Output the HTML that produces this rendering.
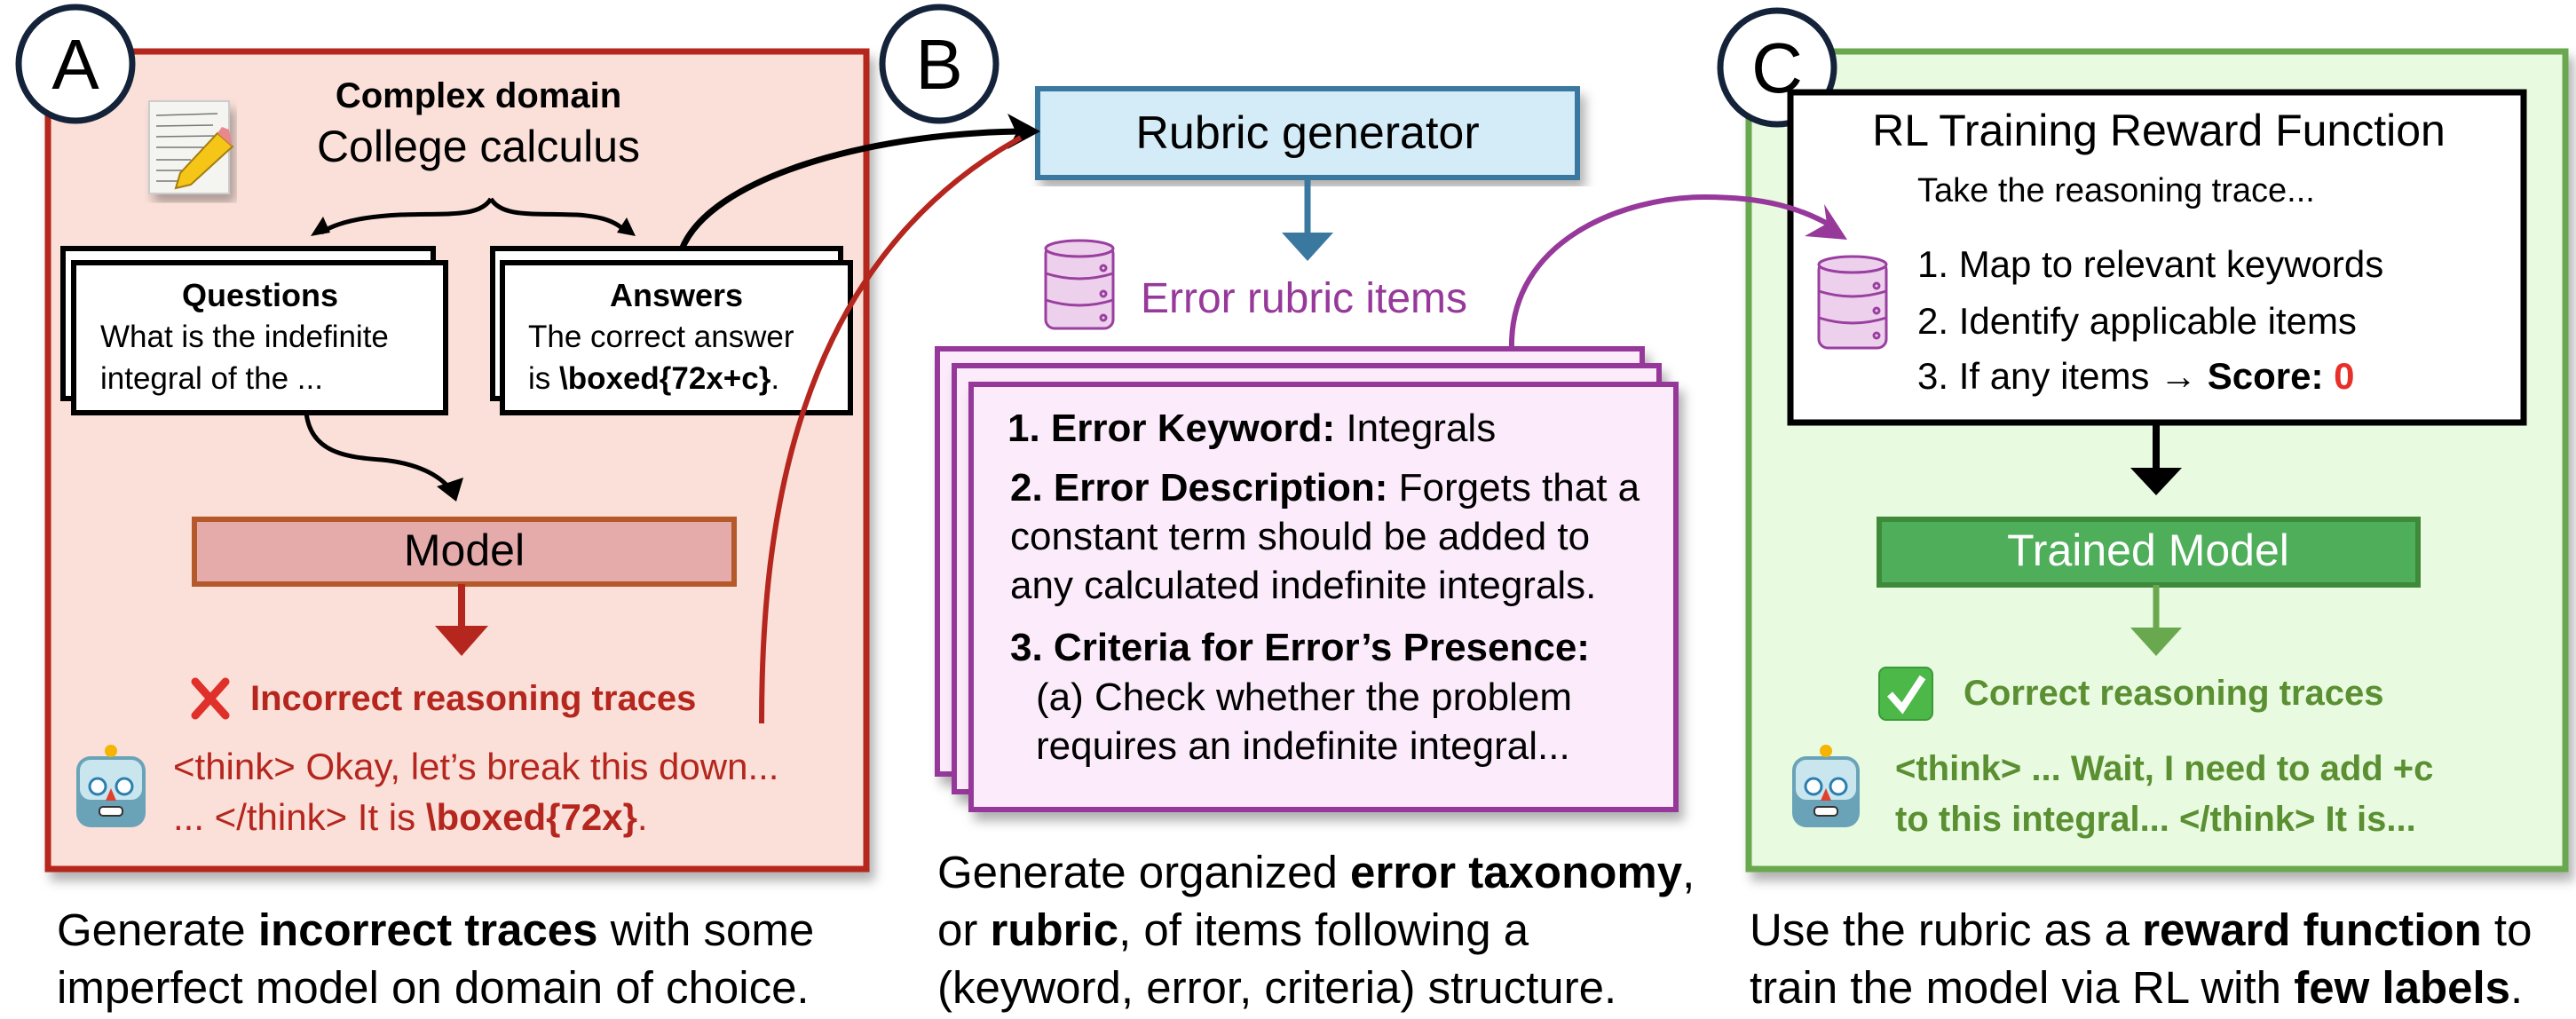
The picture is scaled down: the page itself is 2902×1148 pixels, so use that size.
<!DOCTYPE html>
<html><head><meta charset="utf-8"><style>
html,body{margin:0;padding:0;background:#fff;}
svg{display:block;}
text{font-family:"Liberation Sans",sans-serif;}
</style></head><body>
<svg width="2902" height="1148" viewBox="0 0 2902 1148" xmlns="http://www.w3.org/2000/svg">
<defs>
<filter id="sh" x="-5%" y="-5%" width="115%" height="115%"><feDropShadow dx="6" dy="10" stdDeviation="6" flood-color="#000" flood-opacity="0.3"/></filter>
</defs>

<!-- Panel A -->
<rect x="54" y="58" width="922" height="921" fill="#fae0d8" stroke="#b5261e" stroke-width="7" filter="url(#sh)"/>
<!-- Panel C -->
<rect x="1970" y="58" width="920" height="921" fill="#e8fadf" stroke="#6aa84f" stroke-width="7" filter="url(#sh)"/>

<!-- circles -->
<circle cx="85" cy="72" r="64" fill="#fff" stroke="#14233a" stroke-width="7"/>
<text x="85" y="100" font-size="80" text-anchor="middle">A</text>
<circle cx="1058" cy="72" r="64" fill="#fff" stroke="#14233a" stroke-width="7"/>
<text x="1058" y="100" font-size="80" text-anchor="middle">B</text>
<circle cx="2002" cy="76" r="64" fill="#fff" stroke="#14233a" stroke-width="7"/>
<text x="2002" y="104" font-size="80" text-anchor="middle">C</text>

<!-- notepad icon -->
<g>
<rect x="168" y="114" width="90" height="104" fill="#f4f4f0" stroke="#ccc" stroke-width="2" filter="url(#sh)"/>
<g stroke="#777" stroke-width="1.5">
<line x1="176" y1="130" x2="245" y2="128"/><line x1="176" y1="142" x2="240" y2="141"/><line x1="176" y1="154" x2="246" y2="153"/><line x1="176" y1="166" x2="230" y2="166"/><line x1="176" y1="180" x2="215" y2="180"/><line x1="176" y1="192" x2="210" y2="192"/><line x1="176" y1="204" x2="200" y2="204"/>
</g>
<polygon points="245,150 262,165 215,208 198,212 203,195" fill="#f5c518" stroke="#a27c10" stroke-width="2"/>
<polygon points="245,150 262,165 258,146 250,143" fill="#e8888a"/>
</g>

<text x="539" y="121" font-size="40" font-weight="bold" text-anchor="middle">Complex domain</text>
<text x="539" y="182" font-size="50" text-anchor="middle">College calculus</text>

<!-- brace arrows -->
<g fill="none" stroke="#000" stroke-width="5">
<path d="M553,224 C540,245 505,240 450,242 C410,244 380,250 362,262"/>
<path d="M553,224 C566,245 600,240 650,242 C680,244 695,250 706,262"/>
</g>
<polygon points="350,266 364,244 372,262" fill="#000"/>
<polygon points="716,266 706,245 695,262" fill="#000"/>

<!-- Questions cards -->
<rect x="71" y="280" width="417" height="169" fill="#fff" stroke="#000" stroke-width="6"/>
<rect x="83" y="296" width="419" height="169" fill="#fff" stroke="#000" stroke-width="6"/>
<text x="293" y="345" font-size="36" font-weight="bold" text-anchor="middle">Questions</text>
<text x="113" y="391" font-size="35">What is the indefinite</text>
<text x="113" y="438" font-size="35">integral of the ...</text>

<!-- Answers cards -->
<rect x="555" y="280" width="392" height="169" fill="#fff" stroke="#000" stroke-width="6"/>
<rect x="566" y="296" width="392" height="169" fill="#fff" stroke="#000" stroke-width="6"/>
<text x="762" y="345" font-size="36" font-weight="bold" text-anchor="middle">Answers</text>
<text x="595" y="391" font-size="35">The correct answer</text>
<text x="595" y="438" font-size="35">is <tspan font-weight="bold">\boxed{72x+c}</tspan>.</text>

<!-- Q -> Model curve -->
<path d="M345,465 C350,510 390,515 430,518 C470,522 495,535 508,552" fill="none" stroke="#000" stroke-width="5"/>
<polygon points="514,565 492,548 522,538" fill="#000"/>

<!-- Model -->
<rect x="219" y="585" width="608" height="73" fill="#e5abab" stroke="#b5582a" stroke-width="6"/>
<text x="523" y="637" font-size="50" text-anchor="middle">Model</text>
<line x1="520" y1="658" x2="520" y2="712" stroke="#b5261e" stroke-width="8"/>
<polygon points="490,705 550,705 520,739" fill="#b5261e"/>

<!-- incorrect -->
<g stroke="#e0302a" stroke-width="9" stroke-linecap="round"><line x1="220" y1="768" x2="254" y2="806"/><line x1="254" y1="768" x2="220" y2="806"/></g>
<text x="282" y="800" font-size="40" font-weight="bold" fill="#b5261e">Incorrect reasoning traces</text>

<!-- robot A -->
<g>
<rect x="86" y="852" width="78" height="80" rx="16" fill="#6aa3b8"/>
<rect x="90" y="856" width="70" height="45" rx="12" fill="#c9e6ef"/>
<circle cx="125" cy="846" r="7" fill="#f4b400"/>
<circle cx="110" cy="886" r="9" fill="#fff" stroke="#2a7fb0" stroke-width="3"/>
<circle cx="140" cy="886" r="9" fill="#fff" stroke="#2a7fb0" stroke-width="3"/>
<polygon points="125,888 119,902 131,902" fill="#e04030"/>
<rect x="112" y="909" width="26" height="10" rx="4" fill="#fff" stroke="#333" stroke-width="2"/>
</g>
<text x="195" y="878" font-size="42" fill="#b5261e">&lt;think&gt; Okay, let’s break this down...</text>
<text x="195" y="935" font-size="42" fill="#b5261e">... &lt;/think&gt;  It is <tspan font-weight="bold">\boxed{72x}</tspan>.</text>

<!-- B: rubric generator -->
<rect x="1169" y="100" width="608" height="100" fill="#d4ecf7" stroke="#3a78a0" stroke-width="6" filter="url(#sh)"/>
<text x="1473" y="167" font-size="52" text-anchor="middle">Rubric generator</text>
<line x1="1473" y1="200" x2="1473" y2="270" stroke="#3a78a0" stroke-width="7"/>
<polygon points="1444,262 1502,262 1473,294" fill="#3a78a0"/>

<!-- DB icon B -->
<g fill="#ecd0ec" stroke="#9a3fa0" stroke-width="3">
<rect x="1178" y="276" width="76" height="94" rx="10"/>
<ellipse cx="1216" cy="280" rx="38" ry="9"/>
<path d="M1178,308 Q1216,320 1254,308" fill="none"/>
<path d="M1178,338 Q1216,350 1254,338" fill="none"/>
<circle cx="1243" cy="302" r="3" fill="none"/><circle cx="1243" cy="331" r="3" fill="none"/><circle cx="1243" cy="358" r="3" fill="none"/>
</g>
<text x="1285" y="352" font-size="48" fill="#96399a">Error rubric items</text>

<!-- rubric cards -->
<rect x="1056" y="393" width="794" height="479" fill="#fbebfb" stroke="#96399a" stroke-width="6" filter="url(#sh)"/>
<rect x="1075" y="412" width="794" height="480" fill="#fbebfb" stroke="#96399a" stroke-width="6" filter="url(#sh)"/>
<rect x="1094" y="433" width="794" height="479" fill="#fbebfb" stroke="#96399a" stroke-width="6" filter="url(#sh)"/>
<g font-size="44">
<text x="1135" y="497"><tspan font-weight="bold">1. Error Keyword:</tspan> Integrals</text>
<text x="1138" y="564"><tspan font-weight="bold">2. Error Description:</tspan> Forgets that a</text>
<text x="1138" y="619">constant term should be added to</text>
<text x="1138" y="674">any calculated indefinite integrals.</text>
<text x="1138" y="744" font-weight="bold">3. Criteria for Error’s Presence:</text>
<text x="1167" y="800">(a) Check whether the problem</text>
<text x="1167" y="855">requires an indefinite integral...</text>
</g>

<!-- A -> B connectors -->
<path d="M768,281 C800,200 980,150 1150,148" fill="none" stroke="#000" stroke-width="7"/>
<polygon points="1172,148 1135,128 1145,150 1135,168" fill="#000"/>
<path d="M858,815 C858,600 890,300 1150,155" fill="none" stroke="#b5261e" stroke-width="6"/>

<!-- C: RL box -->
<rect x="2017" y="104" width="826" height="372" fill="#fff" stroke="#000" stroke-width="7"/>
<text x="2432" y="164" font-size="50" text-anchor="middle">RL Training Reward Function</text>
<text x="2160" y="227" font-size="38">Take the reasoning trace...</text>
<g font-size="42">
<text x="2160" y="312">1. Map to relevant keywords</text>
<text x="2160" y="376">2. Identify applicable items</text>
<text x="2160" y="438">3. If any items → <tspan font-weight="bold">Score:</tspan> <tspan font-weight="bold" fill="#e8302a">0</tspan></text>
</g>
<g fill="#ecd0ec" stroke="#9a3fa0" stroke-width="3">
<rect x="2049" y="294" width="76" height="98" rx="10"/>
<ellipse cx="2087" cy="298" rx="38" ry="9"/>
<path d="M2049,328 Q2087,340 2125,328" fill="none"/>
<path d="M2049,358 Q2087,370 2125,358" fill="none"/>
<circle cx="2114" cy="322" r="3" fill="none"/><circle cx="2114" cy="350" r="3" fill="none"/><circle cx="2114" cy="378" r="3" fill="none"/>
</g>

<!-- purple arc (on top) -->
<path d="M1703,393 C1700,270 1830,222 1920,222 C1990,222 2030,235 2066,256" fill="none" stroke="#96399a" stroke-width="6"/>
<polygon points="2081,270 2033,266 2058,252 2055,230" fill="#96399a"/>

<line x1="2429" y1="476" x2="2429" y2="535" stroke="#000" stroke-width="8"/>
<polygon points="2400,527 2458,527 2429,558" fill="#000"/>

<rect x="2117" y="585" width="607" height="74" fill="#4fae5a" stroke="#3f8a3a" stroke-width="6"/>
<text x="2420" y="637" font-size="50" fill="#fff" text-anchor="middle">Trained Model</text>
<line x1="2429" y1="659" x2="2429" y2="715" stroke="#6aa84f" stroke-width="7"/>
<polygon points="2400,707 2458,707 2429,739" fill="#6aa84f"/>

<rect x="2117" y="752" width="60" height="59" rx="8" fill="#4cb848" stroke="#3a9a38" stroke-width="2"/>
<path d="M2129,782 L2143,798 L2166,763" fill="none" stroke="#fff" stroke-width="8"/>
<text x="2212" y="794" font-size="40" font-weight="bold" fill="#5a8f32">Correct reasoning traces</text>

<g>
<rect x="2019" y="852" width="76" height="80" rx="16" fill="#6aa3b8"/>
<rect x="2023" y="856" width="68" height="45" rx="12" fill="#c9e6ef"/>
<circle cx="2057" cy="846" r="7" fill="#f4b400"/>
<circle cx="2043" cy="886" r="9" fill="#fff" stroke="#2a7fb0" stroke-width="3"/>
<circle cx="2071" cy="886" r="9" fill="#fff" stroke="#2a7fb0" stroke-width="3"/>
<polygon points="2057,888 2051,902 2063,902" fill="#e04030"/>
<rect x="2044" y="909" width="26" height="10" rx="4" fill="#fff" stroke="#333" stroke-width="2"/>
</g>
<text x="2135" y="879" font-size="40" font-weight="bold" fill="#5a8f32">&lt;think&gt; ... Wait, I need to add +c</text>
<text x="2135" y="936" font-size="40" font-weight="bold" fill="#5a8f32">to this integral... &lt;/think&gt;  It is...</text>

<!-- captions -->
<g font-size="51">
<text x="64" y="1065">Generate <tspan font-weight="bold">incorrect traces</tspan> with some</text>
<text x="64" y="1130">imperfect model on domain of choice.</text>
<text x="1056" y="1000">Generate organized <tspan font-weight="bold">error taxonomy</tspan>,</text>
<text x="1056" y="1065">or <tspan font-weight="bold">rubric</tspan>, of items following a</text>
<text x="1056" y="1130">(keyword, error, criteria) structure.</text>
<text x="1971" y="1065">Use the rubric as a <tspan font-weight="bold">reward function</tspan> to</text>
<text x="1971" y="1130">train the model via RL with <tspan font-weight="bold">few labels</tspan>.</text>
</g>
</svg>
</body></html>
